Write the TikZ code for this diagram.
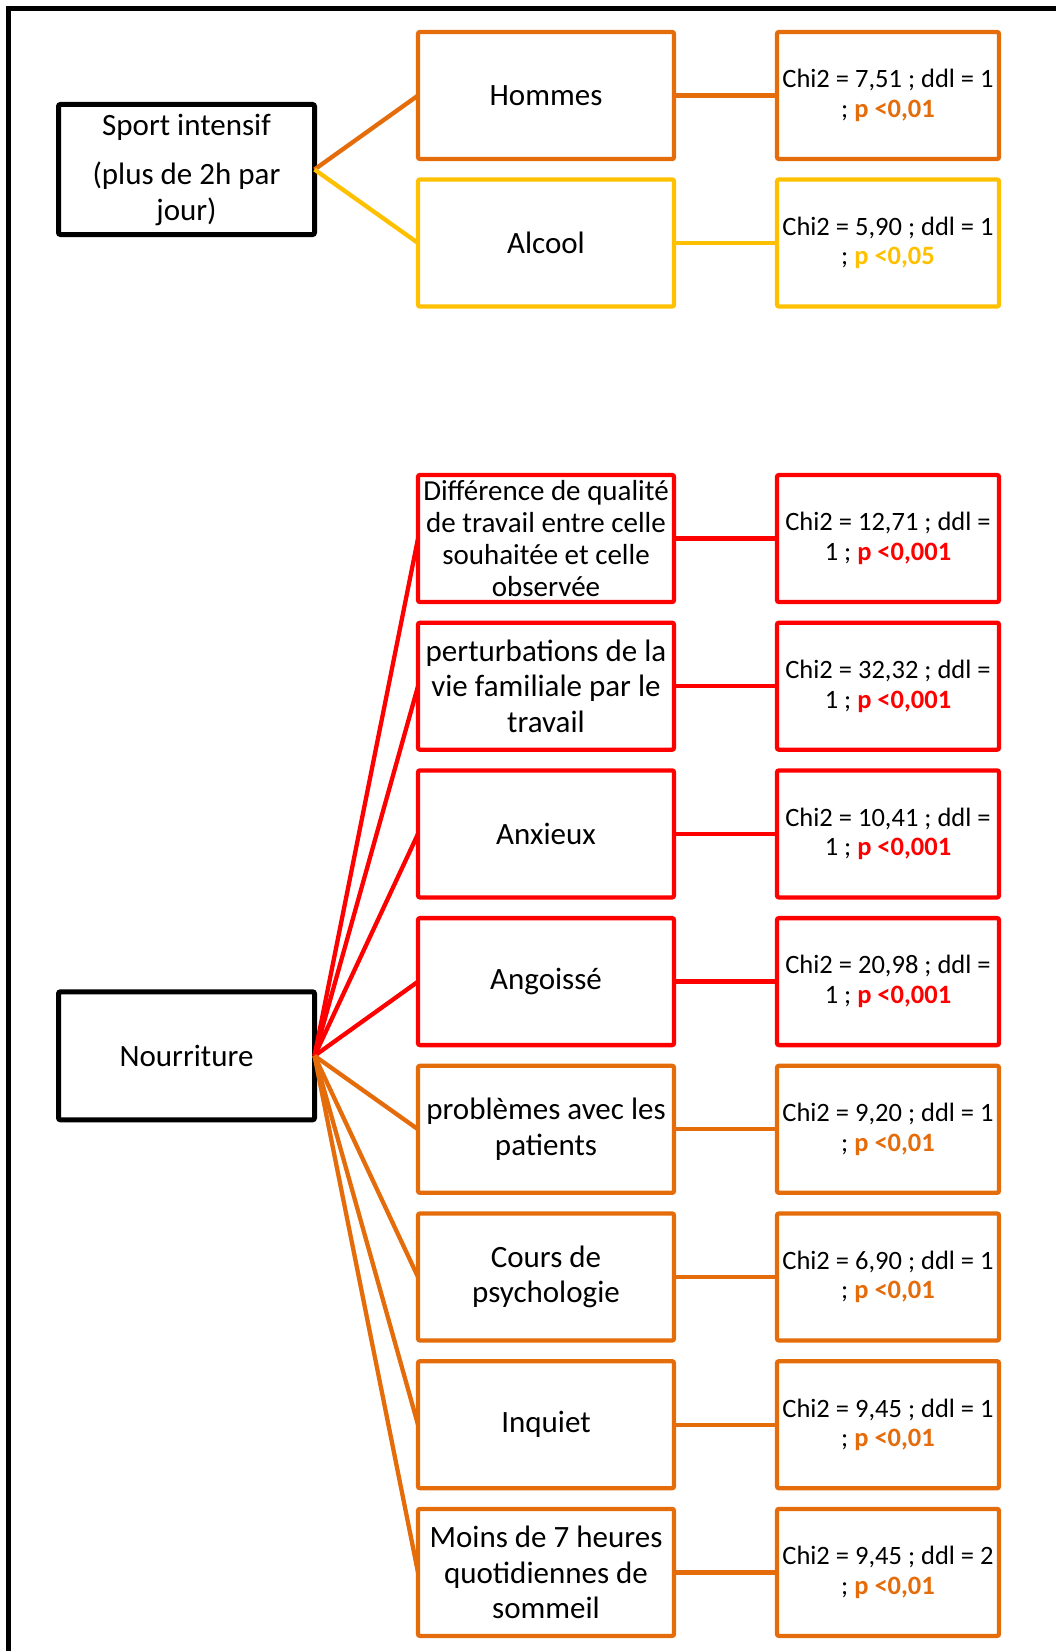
\documentclass[tikz,border=0pt]{standalone}
\usepackage{fontspec}
\setmainfont{Carlito}
\definecolor{cOrange}{HTML}{E46C0A}
\definecolor{cYellow}{HTML}{FFC000}
\definecolor{cRed}{HTML}{FF0000}
\begin{document}
\begin{tikzpicture}[x=1pt,y=-1pt,
  box/.style={draw, line width=4.3pt, rounded corners=2pt, minimum width=256pt, minimum height=127pt,
    inner sep=0pt, outer sep=0pt, align=center, fill=white, font=\fontsize{31}{35.5}\selectfont},
  leftbox/.style={box, draw=black, line width=5pt, minimum height=128pt},
  stat/.style={box, minimum width=222pt, font=\fontsize{26.5}{29.5}\selectfont},
  link/.style={line width=4.3pt}
]
\useasboundingbox (0,0) rectangle (1056,1651);
% frame
\draw[line width=5pt, line join=miter] (8.8,1660) -- (8.8,8.5) -- (1060,8.5);

% left boxes
\node[leftbox, minimum height=130pt] (sport) at (186.5,169.5) {Sport intensif\\[14pt](plus de 2h par\\jour)};
\node[leftbox] (nour) at (186.5,1055.8) {Nourriture};

% upper group
\node[box, draw=cOrange] (hom) at (546,95.5) {Hommes};
\node[box, draw=cYellow] (alc) at (546,243) {Alcool};
\node[stat, draw=cOrange] (shom) at (888,95.5) {Chi2 = 7,51 ; ddl = 1\\; {\color{cOrange}\textbf{p <0,01}}};
\node[stat, draw=cYellow] (salc) at (888,243) {Chi2 = 5,90 ; ddl = 1\\; {\color{cYellow}\textbf{p <0,05}}};

% lower group
\node[box, draw=cRed, font=\fontsize{29}{32}\selectfont] (diff) at (546,538.5) {Différence de qualité\\de travail entre celle\\souhaitée et celle\\observée};
\node[box, draw=cRed] (pert) at (546,686.2) {perturbations de la\\vie familiale par le\\travail};
\node[box, draw=cRed] (anx) at (546,833.9) {Anxieux};
\node[box, draw=cRed] (ang) at (546,981.6) {Angoissé};
\node[box, draw=cOrange] (prob) at (546,1129.3) {problèmes avec les\\patients};
\node[box, draw=cOrange] (cours) at (546,1277) {Cours de\\psychologie};
\node[box, draw=cOrange] (inq) at (546,1424.7) {Inquiet};
\node[box, draw=cOrange] (moins) at (546,1572.4) {Moins de 7 heures\\quotidiennes de\\sommeil};

\node[stat, draw=cRed] (sdiff) at (888,538.5) {Chi2 = 12,71 ; ddl =\\1 ; {\color{cRed}\textbf{p <0,001}}};
\node[stat, draw=cRed] (spert) at (888,686.2) {Chi2 = 32,32 ; ddl =\\1 ; {\color{cRed}\textbf{p <0,001}}};
\node[stat, draw=cRed] (sanx) at (888,833.9) {Chi2 = 10,41 ; ddl =\\1 ; {\color{cRed}\textbf{p <0,001}}};
\node[stat, draw=cRed] (sang) at (888,981.6) {Chi2 = 20,98 ; ddl =\\1 ; {\color{cRed}\textbf{p <0,001}}};
\node[stat, draw=cOrange] (sprob) at (888,1129.3) {Chi2 = 9,20 ; ddl = 1\\; {\color{cOrange}\textbf{p <0,01}}};
\node[stat, draw=cOrange] (scours) at (888,1277) {Chi2 = 6,90 ; ddl = 1\\; {\color{cOrange}\textbf{p <0,01}}};
\node[stat, draw=cOrange] (sinq) at (888,1424.7) {Chi2 = 9,45 ; ddl = 1\\; {\color{cOrange}\textbf{p <0,01}}};
\node[stat, draw=cOrange] (smoins) at (888,1572.4) {Chi2 = 9,45 ; ddl = 2\\; {\color{cOrange}\textbf{p <0,01}}};

% connectors
\draw[link, cOrange] (sport.east) -- (hom.west);
\draw[link, cYellow] (sport.east) -- (alc.west);
\draw[link, cOrange] (hom.east) -- (shom.west);
\draw[link, cYellow] (alc.east) -- (salc.west);
\foreach \n/\c in {diff/cRed, pert/cRed, anx/cRed, ang/cRed, prob/cOrange, cours/cOrange, inq/cOrange, moins/cOrange}{
  \draw[link, \c] (nour.east) -- (\n.west);
  \draw[link, \c] (\n.east) -- (s\n.west);
}
\end{tikzpicture}
\end{document}
